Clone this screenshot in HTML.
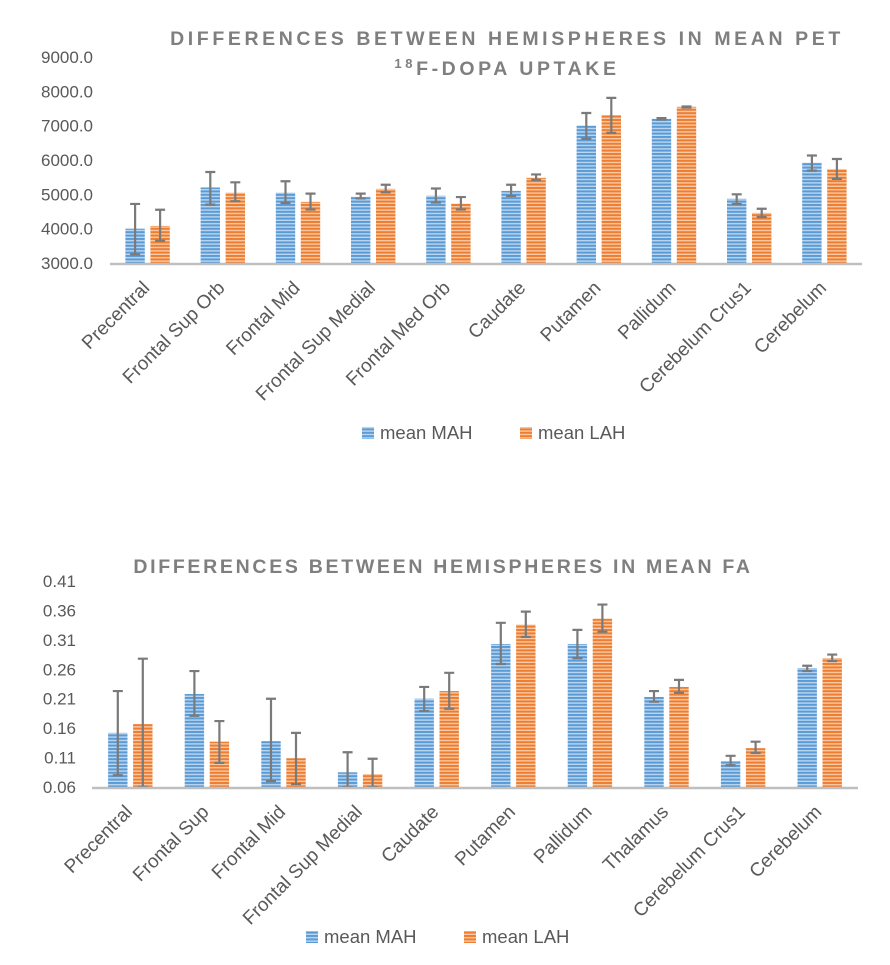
<!DOCTYPE html>
<html><head><meta charset="utf-8"><style>
body{margin:0;background:#fff}
svg{display:block;font-family:"Liberation Sans",sans-serif}
</style></head><body>
<svg id="s" width="890" height="965" viewBox="0 0 890 965" xmlns="http://www.w3.org/2000/svg">
<defs>
<pattern id="pb" width="4" height="3.4" patternUnits="userSpaceOnUse"><rect width="4" height="3.4" fill="#bcd6f0"/><rect width="4" height="2" fill="#5b9bd5"/></pattern>
<pattern id="po" width="4" height="3.4" patternUnits="userSpaceOnUse"><rect width="4" height="3.4" fill="#f8c9a4"/><rect width="4" height="2" fill="#ed7d31"/></pattern>
</defs>
<g id="c1"></g>
<g id="c2"></g>
</svg>
<script>
const petCats=["Precentral","Frontal Sup Orb","Frontal Mid","Frontal Sup Medial","Frontal Med Orb","Caudate","Putamen","Pallidum","Cerebelum Crus1","Cerebelum"];
const petMAH=[4000,5200,5050,4930,4960,5100,7000,7200,4870,5920];
const petMAHlo=[3250,4700,4750,4880,4760,4950,6620,7180,4720,5690];
const petMAHhi=[4720,5650,5380,5020,5170,5280,7370,7220,5000,6130];
const petLAH=[4080,5050,4780,5160,4730,5480,7310,7550,4460,5740];
const petLAHlo=[3650,4800,4560,5060,4560,5420,6790,7530,4340,5450];
const petLAHhi=[4550,5350,5020,5280,4920,5580,7810,7560,4580,6030];
const petTicks=["3000.0","4000.0","5000.0","6000.0","7000.0","8000.0","9000.0"];

const faCats=["Precentral","Frontal Sup","Frontal Mid","Frontal Sup Medial","Caudate","Putamen","Pallidum","Thalamus","Cerebelum Crus1","Cerebelum"];
const faMAH=[0.152,0.218,0.138,0.085,0.210,0.303,0.303,0.213,0.104,0.262];
const faMAHlo=[0.080,0.181,0.070,0.06,0.189,0.269,0.279,0.205,0.097,0.257];
const faMAHhi=[0.223,0.257,0.210,0.119,0.230,0.339,0.327,0.223,0.113,0.266];
const faLAH=[0.167,0.137,0.109,0.082,0.223,0.336,0.346,0.230,0.126,0.279];
const faLAHlo=[0.06,0.101,0.065,0.06,0.193,0.315,0.324,0.220,0.118,0.274];
const faLAHhi=[0.278,0.172,0.152,0.108,0.254,0.358,0.370,0.242,0.137,0.285];
const faTicks=["0.06","0.11","0.16","0.21","0.26","0.31","0.36","0.41"];

const NS="http://www.w3.org/2000/svg";
function mk(p,t,a,txt){const e=document.createElementNS(NS,t);for(const k in a)e.setAttribute(k,a[k]);if(txt!=null)e.textContent=txt;p.appendChild(e);return e;}

function chart(g,o){
  const n=o.cats.length, bw=(o.x1-o.x0)/n;
  const y=v=>o.yb-(v-o.vmin)/(o.vmax-o.vmin)*(o.yb-o.yt);
  const x=i=>o.x0+bw*(i+0.5);
  o.ticks.forEach((t)=>{const l=mk(g,"text",{x:o.tx,y:y(parseFloat(t))+6,"text-anchor":"end","font-size":"17",fill:"#595959"},t);
    
    });
  const ser=[[o.a,o.alo,o.ahi,"url(#pb)",-1],[o.b,o.blo,o.bhi,"url(#po)",1]];
  for(let i=0;i<n;i++){
    ser.forEach((s,k)=>{
      const cx=x(i)+s[4]*12.5, top=y(s[0][i]);
      const r=mk(g,"rect",{x:cx-9.7,y:top,width:19.4,height:o.yb-top,fill:s[3]});
      
      
      const hi=y(s[2][i]),lo=y(s[1][i]);
      const e=mk(g,"path",{d:`M${cx},${hi}V${lo}M${cx-5},${hi}H${cx+5}M${cx-5},${lo}H${cx+5}`,stroke:"#7a7a7a","stroke-width":"2.2",fill:"none"});
      
      
    });
    const lx=x(i)+3, ly=o.yb+26;
    const t=mk(g,"text",{x:lx,y:ly,"text-anchor":"end","font-size":"19",fill:"#595959",transform:`rotate(-45 ${lx} ${ly})`},o.cats[i]);
    
    
  }
  const ax=mk(g,"line",{x1:o.x0,x2:o.x1,y1:o.yb+1,y2:o.yb+1,stroke:"#bfbfbf","stroke-width":"2.5"});
  
  
  o.title.forEach((tt,j)=>{const t=mk(g,"text",{x:o.titx,y:o.tity+j*30,"text-anchor":"middle","font-size":"19.5","font-weight":"bold","letter-spacing":o.ls,fill:"#7f7f7f"});
    t.innerHTML=tt;
    
    });
  [["#pb","mean MAH",o.lx],["#po","mean LAH",o.lx+158]].forEach((L,k)=>{
    const lg=mk(g,"g",{});
    
    
    mk(lg,"rect",{x:L[2],y:o.ly-11,width:12,height:12,fill:`url(${L[0]})`});
    mk(lg,"text",{x:L[2]+18,y:o.ly+1,"font-size":"18.5",fill:"#595959"},L[1]);
  });
}
chart(document.getElementById("c1"),{cats:petCats,a:petMAH,alo:petMAHlo,ahi:petMAHhi,b:petLAH,blo:petLAHlo,bhi:petLAHhi,ticks:petTicks,
  vmin:3000,vmax:9000,yb:263,yt:57,x0:110,x1:862,tx:93,title:["DIFFERENCES BETWEEN HEMISPHERES IN MEAN PET",'<tspan font-size="13" dy="-7">18</tspan><tspan dy="7">F-DOPA UPTAKE</tspan>'],titx:507,tity:45,ls:3.6,lx:362,ly:438});
chart(document.getElementById("c2"),{cats:faCats,a:faMAH,alo:faMAHlo,ahi:faMAHhi,b:faLAH,blo:faLAHlo,bhi:faLAHhi,ticks:faTicks,
  vmin:0.06,vmax:0.41,yb:787,yt:581,x0:92,x1:858,tx:76,title:["DIFFERENCES BETWEEN HEMISPHERES IN MEAN FA"],titx:443,tity:573,ls:2.7,lx:306,ly:942});
</script>
</body></html>
